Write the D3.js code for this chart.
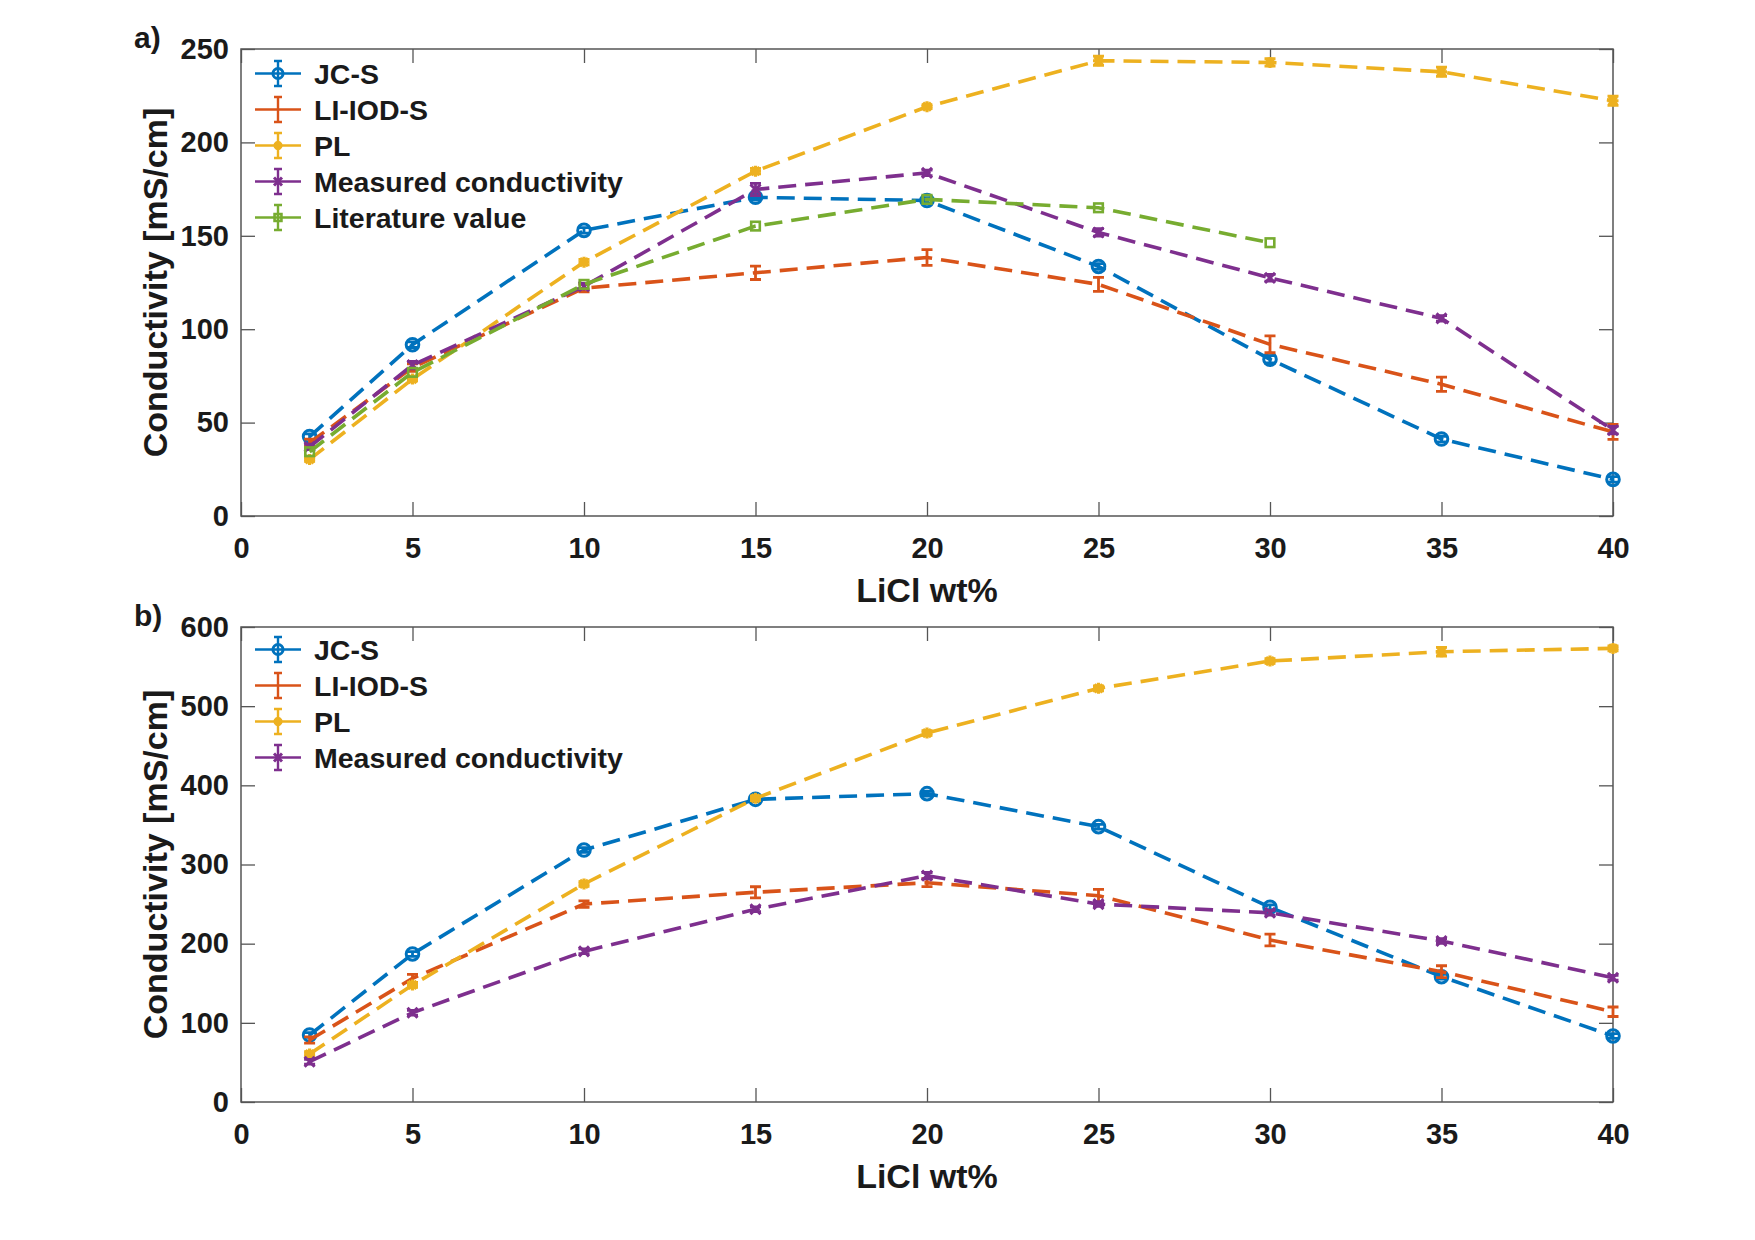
<!DOCTYPE html>
<html><head><meta charset="utf-8">
<script src="https://cdn.jsdelivr.net/npm/d3@7"></script>
<style>
html,body{margin:0;padding:0;background:#fff;}
svg text{font-family:"Liberation Sans",Arial,sans-serif;font-weight:bold;fill:#1a1a1a;}
</style></head>
<body>
<svg id="chart" width="1755" height="1240"></svg>
<script>
// ---------- DATA ----------
const xValues = [2, 5, 10, 15, 20, 25, 30, 35, 40];
const xLitValues = [2, 5, 10, 15, 20, 25, 30];
const xTicks = [0, 5, 10, 15, 20, 25, 30, 35, 40];
const yTicksA = [0, 50, 100, 150, 200, 250];
const yTicksB = [0, 100, 200, 300, 400, 500, 600];
const seriesNames = ["JC-S", "LI-IOD-S", "PL", "Measured conductivity", "Literature value"];

// panel a)
const aJCS      = [42.5, 91.7, 152.9, 170.6, 168.9, 133.6, 83.9, 41.2, 19.6];
const aJCSErr   = [1.5, 1.5, 1.5, 1.5, 1.5, 1.5, 2, 1.5, 1.5];
const aLIIOD    = [39.2, 79.5, 122.0, 130.2, 138.4, 124.0, 91.9, 70.5, 45.0];
const aLIIODErr = [2, 2, 2, 3.6, 4.2, 3.7, 4.5, 3.8, 4];
const aPL       = [30.3, 73.3, 135.9, 184.6, 219.1, 243.7, 242.8, 237.8, 222.3];
const aPLErr    = [1, 1, 1.5, 1.5, 1, 2.5, 2, 2.5, 2.5];
const aMeas     = [37.0, 80.8, 123.0, 174.8, 183.7, 151.8, 127.5, 105.8, 46.0];
const aMeasErr  = [1.5, 2, 1.5, 3.3, 1.5, 2, 1.8, 1.5, 2];
const aLit      = [34.4, 76.9, 124.0, 155.2, 169.5, 165.0, 146.3];

// panel b)
const bJCS      = [84.6, 187.0, 318.3, 382.3, 389.5, 347.8, 245.9, 158.3, 83.4];
const bJCSErr   = [3, 3, 3, 3, 3, 3, 3, 3, 3];
const bLIIOD    = [78.3, 156.2, 250.0, 264.9, 277.0, 260.6, 204.6, 164.6, 114.0];
const bLIIODErr = [4, 5, 4, 7, 5, 8, 7.5, 7.5, 6];
const bPL       = [60.6, 147.8, 275.4, 383.6, 466.0, 522.5, 557.0, 568.8, 573.0];
const bPLErr    = [3, 3, 3, 3, 3, 3, 3, 5.5, 3];
const bMeas     = [50.9, 112.8, 190.3, 243.4, 285.9, 250.0, 239.0, 203.4, 157.0];
const bMeasErr  = [3, 3, 3, 3, 4, 3, 3, 3, 3];

// ---------- STYLE ----------
const colors = ["#0072BD", "#D95319", "#EDB120", "#7E2F8E", "#77AC30"];
const markers = ["circle", "none", "asterisk", "x", "square"];

const svg = d3.select("#chart");
const axisColor = "#555";
const FONT = "'Liberation Sans',Arial,sans-serif";

function drawMarker(g, type, cx, cy, color, s) {
  s = s || 1;
  if (type === "circle") {
    g.append("circle").attr("cx", cx).attr("cy", cy).attr("r", 6.3 * s)
      .attr("fill", "none").attr("stroke", color).attr("stroke-width", 3);
  } else if (type === "square") {
    const h = 4.3 * s;
    g.append("rect").attr("x", cx - h).attr("y", cy - h).attr("width", 2 * h).attr("height", 2 * h)
      .attr("fill", "none").attr("stroke", color).attr("stroke-width", 2.6);
  } else if (type === "x") {
    const h = 5 * s;
    g.append("path").attr("d", `M${cx-h},${cy-h}L${cx+h},${cy+h}M${cx-h},${cy+h}L${cx+h},${cy-h}`)
      .attr("stroke", color).attr("stroke-width", 3).attr("fill", "none");
  } else if (type === "asterisk") {
    const h = 5.5 * s, d = 4 * s;
    g.append("path").attr("d", `M${cx-h},${cy}L${cx+h},${cy}M${cx},${cy-h}L${cx},${cy+h}M${cx-d},${cy-d}L${cx+d},${cy+d}M${cx-d},${cy+d}L${cx+d},${cy-d}`)
      .attr("stroke", color).attr("stroke-width", 3.2).attr("fill", "none");
  }
}

function drawPanel(cfg) {
  const left = 241, right = 1613;
  const x = d3.scaleLinear().domain([0, 40]).range([left, right]);
  const y = d3.scaleLinear().domain([0, cfg.yMax]).range([cfg.bottom, cfg.top]);
  const g = svg.append("g");

  // box
  g.append("rect").attr("x", left).attr("y", cfg.top).attr("width", right - left)
    .attr("height", cfg.bottom - cfg.top).attr("fill", "none")
    .attr("stroke", axisColor).attr("stroke-width", 1.5);

  const tl = 14;
  const styleAxis = sel => {
    sel.select(".domain").remove();
    sel.selectAll(".tick line").attr("stroke", axisColor).attr("stroke-width", 1.3);
    sel.selectAll(".tick text").attr("fill", "#1a1a1a").style("font-size", "29px")
      .style("font-family", FONT).style("font-weight", "bold");
  };
  g.append("g").attr("transform", `translate(0,${cfg.bottom})`)
    .call(d3.axisBottom(x).tickValues(xTicks).tickSizeInner(-tl).tickSizeOuter(0).tickPadding(21).tickFormat(d3.format("d")))
    .call(styleAxis);
  g.append("g").attr("transform", `translate(0,${cfg.top})`)
    .call(d3.axisTop(x).tickValues(xTicks).tickSizeInner(-tl).tickSizeOuter(0).tickFormat(""))
    .call(styleAxis);
  g.append("g").attr("transform", `translate(${left},0)`)
    .call(d3.axisLeft(y).tickValues(cfg.yTicks).tickSizeInner(-tl).tickSizeOuter(0).tickPadding(12).tickFormat(d3.format("d")))
    .call(styleAxis);
  g.append("g").attr("transform", `translate(${right},0)`)
    .call(d3.axisRight(y).tickValues(cfg.yTicks).tickSizeInner(-tl).tickSizeOuter(0).tickFormat(""))
    .call(styleAxis);

  // titles
  g.append("text").attr("x", (left + right) / 2).attr("y", cfg.bottom + 86)
    .attr("text-anchor", "middle").style("font-size", "34px").text("LiCl wt%");
  g.append("text").attr("transform", `translate(${167},${(cfg.top + cfg.bottom) / 2}) rotate(-90)`)
    .attr("text-anchor", "middle").style("font-size", "34px").text("Conductivity [mS/cm]");
  g.append("text").attr("x", 134).attr("y", cfg.top - 1).style("font-size", "30px").text(cfg.label);

  // series
  const line = d3.line().x(d => x(d.x)).y(d => y(d.y));
  cfg.series.forEach(s => {
    const pts = s.xs.map((xv, i) => ({ x: xv, y: s.ys[i], e: s.err ? s.err[i] : 0 }));
    const sg = g.append("g");
    sg.append("path").datum(pts).attr("d", line).attr("fill", "none")
      .attr("stroke", s.color).attr("stroke-width", 3.6).attr("stroke-dasharray", "18,9");
    pts.forEach(p => {
      if (p.e > 0) {
        const cx = x(p.x), y1 = y(p.y - p.e), y2 = y(p.y + p.e);
        sg.append("path").attr("d", `M${cx},${y1}L${cx},${y2}M${cx-5.5},${y1}L${cx+5.5},${y1}M${cx-5.5},${y2}L${cx+5.5},${y2}`)
          .attr("stroke", s.color).attr("stroke-width", 2.8).attr("fill", "none");
      }
      drawMarker(sg, s.marker, x(p.x), y(p.y), s.color);
    });
  });

  // legend
  cfg.series.forEach((s, i) => {
    const cy = cfg.legendTop + i * 36;
    const lg = g.append("g");
    lg.append("line").attr("x1", 255).attr("x2", 301).attr("y1", cy).attr("y2", cy)
      .attr("stroke", s.color).attr("stroke-width", 2.4);
    lg.append("path").attr("d", `M278,${cy-12.5}L278,${cy+12.5}M274,${cy-12.5}L282,${cy-12.5}M274,${cy+12.5}L282,${cy+12.5}`)
      .attr("stroke", s.color).attr("stroke-width", 2.4).attr("fill", "none");
    drawMarker(lg, s.marker, 278, cy, s.color, 0.8);
    lg.append("text").attr("x", 314).attr("y", cy + 10).style("font-size", "28.5px").text(s.name);
  });
}

drawPanel({
  top: 49, bottom: 516, yMax: 250, yTicks: yTicksA, label: "a)", legendTop: 73.5,
  series: [
    { name: seriesNames[0], xs: xValues, ys: aJCS, err: aJCSErr, color: colors[0], marker: markers[0] },
    { name: seriesNames[1], xs: xValues, ys: aLIIOD, err: aLIIODErr, color: colors[1], marker: markers[1] },
    { name: seriesNames[2], xs: xValues, ys: aPL, err: aPLErr, color: colors[2], marker: markers[2] },
    { name: seriesNames[3], xs: xValues, ys: aMeas, err: aMeasErr, color: colors[3], marker: markers[3] },
    { name: seriesNames[4], xs: xLitValues, ys: aLit, err: null, color: colors[4], marker: markers[4] }
  ]
});
drawPanel({
  top: 627, bottom: 1102, yMax: 600, yTicks: yTicksB, label: "b)", legendTop: 649.5,
  series: [
    { name: seriesNames[0], xs: xValues, ys: bJCS, err: bJCSErr, color: colors[0], marker: markers[0] },
    { name: seriesNames[1], xs: xValues, ys: bLIIOD, err: bLIIODErr, color: colors[1], marker: markers[1] },
    { name: seriesNames[2], xs: xValues, ys: bPL, err: bPLErr, color: colors[2], marker: markers[2] },
    { name: seriesNames[3], xs: xValues, ys: bMeas, err: bMeasErr, color: colors[3], marker: markers[3] }
  ]
});
</script>
</body></html>
